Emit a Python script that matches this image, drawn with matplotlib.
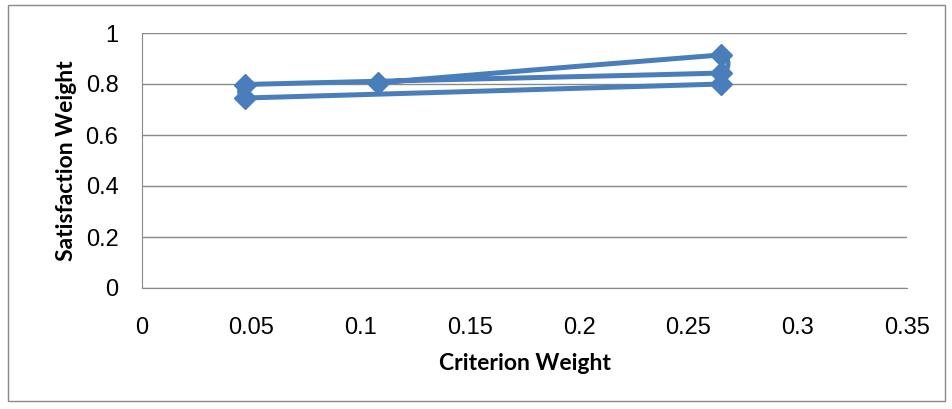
import numpy as np
import matplotlib.pyplot as plt
from matplotlib.path import Path
from matplotlib.patches import PathPatch, Rectangle

# data points, in drawing order (Excel scatter with smoothed line)
criterion_weight = [0.108, 0.265, 0.265, 0.047, 0.047, 0.265]
satisfaction_weight = [0.805, 0.914, 0.843, 0.798, 0.745, 0.800]

x_ticks = [0, 0.05, 0.1, 0.15, 0.2, 0.25, 0.3, 0.35]
y_ticks = [0, 0.2, 0.4, 0.6, 0.8, 1]

blue = '#4A7EBB'


def smooth_path(xs, ys, ax):
    # bezier through the points in display space, tangents clipped like Excel's smoothed line
    pts = ax.transData.transform(np.column_stack([xs, ys]))
    n = len(pts)

    def tangent(i):
        prev = pts[max(i - 1, 0)]
        nxt = pts[min(i + 1, n - 1)]
        d = nxt - prev
        L = np.hypot(*d)
        if L == 0:
            return np.zeros(2)
        segs = [np.hypot(*(pts[i] - prev)), np.hypot(*(nxt - pts[i]))]
        segs = [s for s in segs if s > 0]
        mag = min(L / 6, 0.5 * min(segs))
        return d / L * mag

    verts = [pts[0]]
    codes = [Path.MOVETO]
    for i in range(n - 1):
        verts += [pts[i] + tangent(i), pts[i + 1] - tangent(i + 1), pts[i + 1]]
        codes += [Path.CURVE4] * 3
    return Path(verts, codes)


fig = plt.figure(figsize=(9.53, 4.09), dpi=100)
fig.patches.append(Rectangle((8 / 953, 8 / 409), 937 / 953, 396 / 409, transform=fig.transFigure,
                             fill=False, edgecolor='#898989', linewidth=1))
ax = fig.add_axes([142 / 953, 1 - 288 / 409, 765 / 953, 255 / 409])
ax.set_xlim(0, 0.35)
ax.set_ylim(0, 1)
ax.set_xticks(x_ticks)
ax.set_yticks(y_ticks)
ax.set_xticklabels(['0', '0.05', '0.1', '0.15', '0.2', '0.25', '0.3', '0.35'])
ax.set_yticklabels(['0', '0.2', '0.4', '0.6', '0.8', '1'])
ax.tick_params(length=0, labelsize=17)
ax.tick_params(axis='x', pad=21)
ax.tick_params(axis='y', pad=17)
for lbl in ax.get_xticklabels() + ax.get_yticklabels():
    lbl.set_family('Liberation Sans')
ax.grid(axis='y', color='#898989', linewidth=1)
ax.set_axisbelow(True)
for side in ['top', 'right']:
    ax.spines[side].set_visible(False)
for side in ['left', 'bottom']:
    ax.spines[side].set_color('#898989')

ax.set_xlabel('Criterion Weight', family='Lato', fontweight='bold', fontsize=16.5, labelpad=10)
ax.set_ylabel('Satisfaction Weight', family='Lato', fontweight='bold', fontsize=16.5, labelpad=6)

fig.canvas.draw()
path = smooth_path(criterion_weight, satisfaction_weight, ax)
ax.add_patch(PathPatch(path, transform=None, fill=False, edgecolor=blue, linewidth=3.6,
                       capstyle='round', joinstyle='round', clip_on=False))
ax.plot(criterion_weight, satisfaction_weight, linestyle='none', marker='D', markersize=11,
        color=blue, clip_on=False)

fig.savefig('out.png', dpi=100)
